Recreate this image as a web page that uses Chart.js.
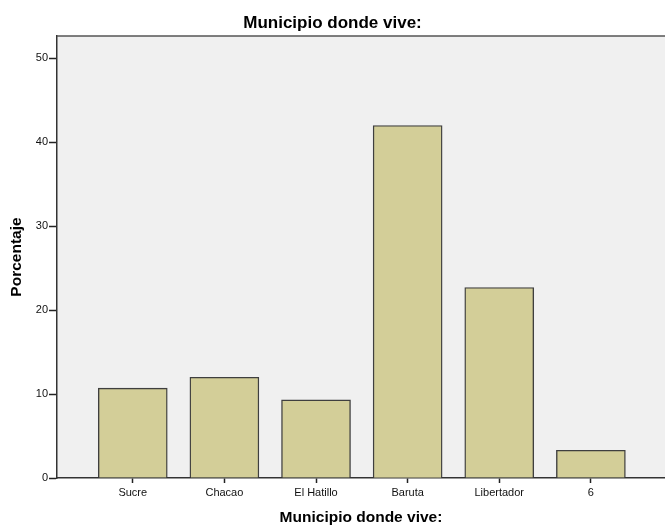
<!DOCTYPE html>
<html>
<head>
<meta charset="utf-8">
<title>Municipio donde vive:</title>
<script src="https://cdn.jsdelivr.net/npm/chart.js@4"></script>
<style>
    html, body { margin: 0; padding: 0; background: #ffffff; }
    #wrap { width: 665px; height: 527px; }
</style>
</head>
<body>
<div id="wrap"><canvas id="chart" width="665" height="527"></canvas></div>
<script>
// Données
const categories = ['Sucre', 'Chacao', 'El Hatillo', 'Baruta', 'Libertador', '6'];
const percentages = [10.7, 12.0, 9.3, 42.0, 22.7, 3.3];
const yTicks = [0, 10, 20, 30, 40, 50];

const FONT = "'Liberation Sans', Arial, sans-serif";

// Fond gris de la zone de tracé + trait du haut
const plotBackground = {
    id: 'plotBackground',
    beforeDraw(chart) {
        const { ctx, chartArea } = chart;
        ctx.save();
        ctx.fillStyle = '#f0f0f0';
        ctx.fillRect(chartArea.left, chartArea.top, chartArea.right - chartArea.left, chartArea.bottom - chartArea.top);
        ctx.restore();
    },
    afterDraw(chart) {
        const { ctx, chartArea } = chart;
        ctx.save();
        ctx.strokeStyle = '#555555';
        ctx.lineWidth = 1.5;
        ctx.beginPath();
        ctx.moveTo(chartArea.left, chartArea.top);
        ctx.lineTo(chartArea.right, chartArea.top);
        ctx.stroke();
        ctx.restore();
    }
};

const ctx = document.getElementById('chart');
new Chart(ctx, {
    type: 'bar',
    data: {
        datasets: [{
            label: 'Porcentaje',
            data: categories.map((c, i) => ({ x: i, y: percentages[i] })),
            backgroundColor: '#d3ce98',
            borderColor: '#3f3f3f',
            borderWidth: 1.4,
            barThickness: 69
        }]
    },
    options: {
        responsive: false,
        animation: false,
        devicePixelRatio: 1,
        layout: { padding: 0 },
        plugins: {
            legend: { display: false },
            tooltip: { enabled: false },
            title: {
                display: true,
                text: 'Municipio donde vive:',
                color: '#000000',
                font: { family: FONT, size: 17, weight: 'bold' },
                padding: { top: 13, bottom: 2.6 }
            }
        },
        scales: {
            x: {
                type: 'linear',
                offset: false,
                min: -0.827,
                max: 5.809,
                afterFit: s => { s.height = 49; },
                afterBuildTicks: s => { s.ticks = categories.map((_, i) => ({ value: i })); },
                ticks: {
                    callback: v => categories[v] ?? '',
                    color: '#111111',
                    font: { family: FONT, size: 11 },
                    padding: 3,
                    maxRotation: 0,
                    autoSkip: false
                },
                grid: { offset: false, drawOnChartArea: false, drawTicks: true, tickLength: 5, tickColor: '#222222', tickWidth: 1.5 },
                border: { display: true, color: '#333333', width: 1.5 },
                title: {
                    display: true,
                    text: 'Municipio donde vive:',
                    color: '#000000',
                    font: { family: FONT, size: 15.5, weight: 'bold' },
                    padding: { top: 0, bottom: 0 }
                }
            },
            y: {
                min: 0,
                max: 52.66,
                afterFit: s => { s.width = 57; },
                afterBuildTicks: s => { s.ticks = yTicks.map(v => ({ value: v })); },
                ticks: {
                    color: '#111111',
                    font: { family: FONT, size: 11 },
                    padding: 1
                },
                grid: { drawOnChartArea: false, drawTicks: true, tickLength: 8, tickColor: '#222222', tickWidth: 1.5 },
                border: { display: true, color: '#333333', width: 1.5 },
                title: {
                    display: true,
                    text: 'Porcentaje',
                    color: '#000000',
                    font: { family: FONT, size: 15.5, weight: 'bold' },
                    padding: { top: 7.5, bottom: 0 }
                }
            }
        }
    },
    plugins: [plotBackground]
});
</script>
</body>
</html>
